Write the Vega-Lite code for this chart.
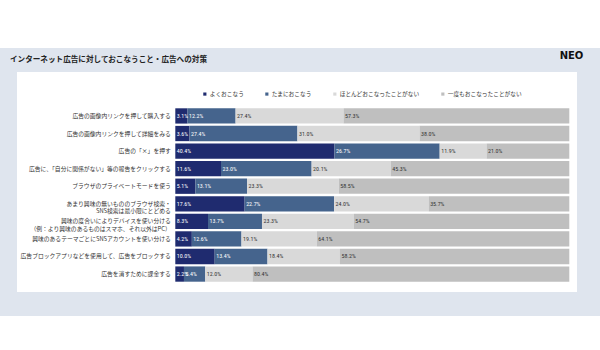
{
  "$schema": "https://vega.github.io/schema/vega-lite/v6.json",
  "autosize": {"type": "none"},
  "width": 584,
  "height": 244,
  "padding": {"left": 5, "top": 60, "right": 11, "bottom": 46},
  "background": "white",
  "title": {
    "text": "インターネット広告に対しておこなうこと・広告への対策",
    "anchor": "start",
    "frame": "group",
    "font": "Noto Sans CJK JP",
    "fontSize": 7.6,
    "fontWeight": "bold",
    "color": "#222222",
    "dx": 5,
    "dy": 18,
    "offset": 0,
    "baseline": "middle"
  },
  "config": {
    "view": {"fill": "white", "stroke": "#dfe5ee", "strokeWidth": 24},
    "font": "Noto Sans CJK JP"
  },
  "data": {
    "values": [
      {"item": "広告の画像内リンクを押して購入する", "series": "よくおこなう", "share": 0.031},
      {"item": "広告の画像内リンクを押して購入する", "series": "たまにおこなう", "share": 0.122},
      {"item": "広告の画像内リンクを押して購入する", "series": "ほとんどおこなったことがない", "share": 0.274},
      {"item": "広告の画像内リンクを押して購入する", "series": "一度もおこなったことがない", "share": 0.573},
      {"item": "広告の画像内リンクを押して詳細をみる", "series": "よくおこなう", "share": 0.036},
      {"item": "広告の画像内リンクを押して詳細をみる", "series": "たまにおこなう", "share": 0.274},
      {"item": "広告の画像内リンクを押して詳細をみる", "series": "ほとんどおこなったことがない", "share": 0.310},
      {"item": "広告の画像内リンクを押して詳細をみる", "series": "一度もおこなったことがない", "share": 0.380},
      {"item": "広告の「×」を押す", "series": "よくおこなう", "share": 0.404},
      {"item": "広告の「×」を押す", "series": "たまにおこなう", "share": 0.267},
      {"item": "広告の「×」を押す", "series": "ほとんどおこなったことがない", "share": 0.119},
      {"item": "広告の「×」を押す", "series": "一度もおこなったことがない", "share": 0.210},
      {"item": "広告に、「自分に関係がない」等の報告をクリックする", "series": "よくおこなう", "share": 0.116},
      {"item": "広告に、「自分に関係がない」等の報告をクリックする", "series": "たまにおこなう", "share": 0.230},
      {"item": "広告に、「自分に関係がない」等の報告をクリックする", "series": "ほとんどおこなったことがない", "share": 0.201},
      {"item": "広告に、「自分に関係がない」等の報告をクリックする", "series": "一度もおこなったことがない", "share": 0.453},
      {"item": "ブラウザのプライベートモードを使う", "series": "よくおこなう", "share": 0.051},
      {"item": "ブラウザのプライベートモードを使う", "series": "たまにおこなう", "share": 0.131},
      {"item": "ブラウザのプライベートモードを使う", "series": "ほとんどおこなったことがない", "share": 0.233},
      {"item": "ブラウザのプライベートモードを使う", "series": "一度もおこなったことがない", "share": 0.585},
      {"item": "あまり興味の無いもののブラウザ検索・\nSNS検索は最小限にとどめる", "series": "よくおこなう", "share": 0.176},
      {"item": "あまり興味の無いもののブラウザ検索・\nSNS検索は最小限にとどめる", "series": "たまにおこなう", "share": 0.227},
      {"item": "あまり興味の無いもののブラウザ検索・\nSNS検索は最小限にとどめる", "series": "ほとんどおこなったことがない", "share": 0.240},
      {"item": "あまり興味の無いもののブラウザ検索・\nSNS検索は最小限にとどめる", "series": "一度もおこなったことがない", "share": 0.357},
      {"item": "興味の度合いによりデバイスを使い分ける\n（例：より興味のあるものはスマホ、それ以外はPC）", "series": "よくおこなう", "share": 0.083},
      {"item": "興味の度合いによりデバイスを使い分ける\n（例：より興味のあるものはスマホ、それ以外はPC）", "series": "たまにおこなう", "share": 0.137},
      {"item": "興味の度合いによりデバイスを使い分ける\n（例：より興味のあるものはスマホ、それ以外はPC）", "series": "ほとんどおこなったことがない", "share": 0.233},
      {"item": "興味の度合いによりデバイスを使い分ける\n（例：より興味のあるものはスマホ、それ以外はPC）", "series": "一度もおこなったことがない", "share": 0.547},
      {"item": "興味のあるテーマごとにSNSアカウントを使い分ける", "series": "よくおこなう", "share": 0.042},
      {"item": "興味のあるテーマごとにSNSアカウントを使い分ける", "series": "たまにおこなう", "share": 0.126},
      {"item": "興味のあるテーマごとにSNSアカウントを使い分ける", "series": "ほとんどおこなったことがない", "share": 0.191},
      {"item": "興味のあるテーマごとにSNSアカウントを使い分ける", "series": "一度もおこなったことがない", "share": 0.641},
      {"item": "広告ブロックアプリなどを使用して、広告をブロックする", "series": "よくおこなう", "share": 0.100},
      {"item": "広告ブロックアプリなどを使用して、広告をブロックする", "series": "たまにおこなう", "share": 0.134},
      {"item": "広告ブロックアプリなどを使用して、広告をブロックする", "series": "ほとんどおこなったことがない", "share": 0.184},
      {"item": "広告ブロックアプリなどを使用して、広告をブロックする", "series": "一度もおこなったことがない", "share": 0.582},
      {"item": "広告を消すために課金する", "series": "よくおこなう", "share": 0.022},
      {"item": "広告を消すために課金する", "series": "たまにおこなう", "share": 0.054},
      {"item": "広告を消すために課金する", "series": "ほとんどおこなったことがない", "share": 0.120},
      {"item": "広告を消すために課金する", "series": "一度もおこなったことがない", "share": 0.804}
    ]
  },
  "transform": [
    {"stack": "share", "groupby": ["item"], "as": ["v0", "v1"]}
  ],
  "encoding": {
    "y": {
      "field": "item",
      "type": "nominal",
      "sort": null,
      "scale": {"range": [48.3, 221.7], "paddingInner": 0.13, "paddingOuter": 0},
      "axis": {
        "title": null,
        "orient": "left",
        "offset": -170.3,
        "domain": false,
        "ticks": false,
        "labelPadding": 5,
        "labelFont": "Noto Sans CJK JP",
        "labelFontSize": 5.8,
        "labelColor": "#333333",
        "labelLimit": 300,
        "labelLineHeight": 7.6,
        "labelExpr": "split(datum.value, '\\n')"
      }
    }
  },
  "layer": [
    {
      "mark": {"type": "bar"},
      "encoding": {
        "x": {
          "field": "v0",
          "type": "quantitative",
          "scale": {"domain": [0, 1], "range": [170.3, 564.3], "nice": false},
          "axis": {
            "orient": "top",
            "labels": false,
            "ticks": false,
            "domain": false,
            "grid": false,
            "title": "NEO",
            "titleX": 566,
            "titleY": -5,
            "titleAlign": "center",
            "titleBaseline": "middle",
            "titleFont": "DejaVu Sans",
            "titleFontSize": 10,
            "titleFontWeight": "bold",
            "titleColor": "#111111"
          }
        },
        "x2": {"field": "v1"},
        "color": {
          "field": "series",
          "type": "nominal",
          "sort": null,
          "scale": {
            "domain": ["よくおこなう", "たまにおこなう", "ほとんどおこなったことがない", "一度もおこなったことがない"],
            "range": ["#1f2b6f", "#45648d", "#d9d9d9", "#bfbfbf"]
          },
          "legend": {
            "title": null,
            "orient": "none",
            "legendX": 197,
            "legendY": 31,
            "direction": "horizontal",
            "columns": 4,
            "columnPadding": 20,
            "padding": 0,
            "symbolType": "square",
            "symbolSize": 10,
            "symbolStrokeWidth": 0,
            "labelOffset": 2,
            "labelFont": "Noto Sans CJK JP",
            "labelFontSize": 5.7,
            "labelColor": "#333333"
          }
        }
      }
    },
    {
      "mark": {
        "type": "text",
        "align": "left",
        "baseline": "middle",
        "dx": 1.5,
        "font": "Roboto Condensed, Liberation Sans",
        "fontSize": 6
      },
      "encoding": {
        "x": {"field": "v0", "type": "quantitative"},
        "text": {"field": "share", "type": "quantitative", "format": ".1%"},
        "color": {
          "condition": {"test": "datum.series === 'よくおこなう' || datum.series === 'たまにおこなう'", "value": "white"},
          "value": "#333333"
        }
      }
    }
  ]
}
